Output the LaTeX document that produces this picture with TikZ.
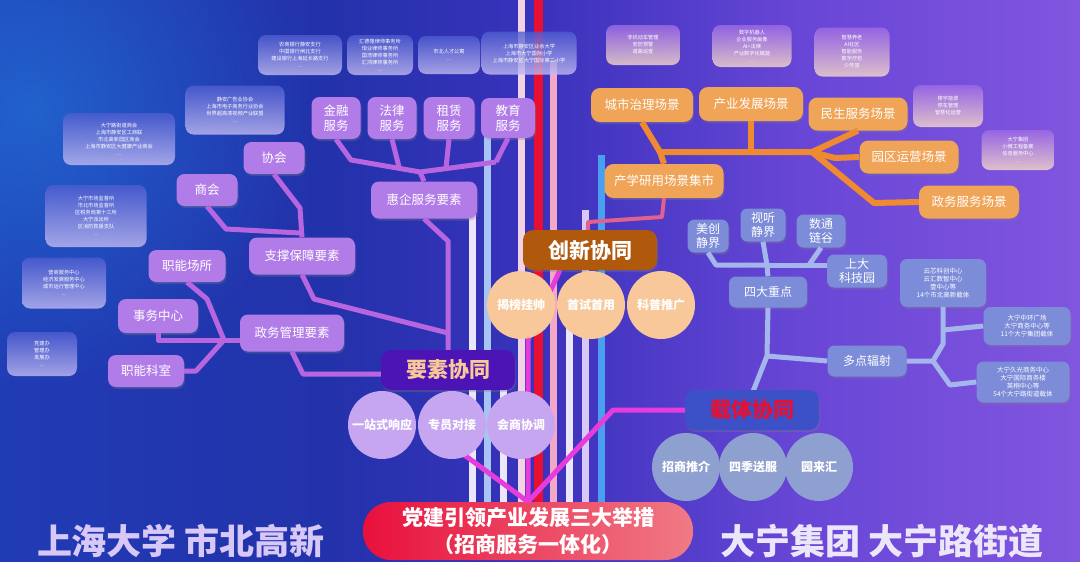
\documentclass[tikz,border=0pt]{standalone}
\usepackage{fontspec}
\setmainfont{Noto Sans CJK SC}
\usepackage{tikz}
\usetikzlibrary{shapes, arrows, positioning, shadows, fadings}
\definecolor{bgA}{HTML}{1D4CC6}
\definecolor{bgB}{HTML}{2232AA}
\definecolor{bgC}{HTML}{3A32BC}
\definecolor{bgD}{HTML}{6846D6}
\definecolor{bgE}{HTML}{B274F0}
\definecolor{glow}{HTML}{2388E6}
\definecolor{facpurple}{HTML}{B27CE8}
\definecolor{scorange}{HTML}{F0A458}
\definecolor{cablue}{HTML}{7C8CD8}
\definecolor{linepurple}{HTML}{B866E0}
\definecolor{lineorange}{HTML}{F08A30}
\definecolor{lineblue}{HTML}{A4B6EC}
\definecolor{linemag}{HTML}{E63CDC}
\definecolor{linepink}{HTML}{E0608E}
\definecolor{stW}{HTML}{ECE6FA}
\definecolor{stLB}{HTML}{A8C4F4}
\definecolor{stWP}{HTML}{F2D2E6}
\definecolor{stRed}{HTML}{E81030}
\definecolor{stPk}{HTML}{F4A8C8}
\definecolor{stLv}{HTML}{D8C8F8}
\definecolor{stBl}{HTML}{4AA0F0}
\definecolor{infoLtop}{HTML}{4E5CD0}
\definecolor{infoLbot}{HTML}{C4BCF2}
\definecolor{infoRtop}{HTML}{9E6AE6}
\definecolor{infoRbot}{HTML}{F8DCC8}
\definecolor{hubpurple}{HTML}{4C14B4}
\definecolor{hubbrown}{HTML}{B0580C}
\definecolor{hubblue}{HTML}{3C50C8}
\definecolor{circP}{HTML}{C6A6F0}
\definecolor{circO}{HTML}{F8C89A}
\definecolor{circB}{HTML}{8EA0D0}
\definecolor{redL}{HTML}{E8103C}
\definecolor{redR}{HTML}{F07A86}
\pgfdeclarehorizontalshading{bgshade}{100bp}{color(0bp)=(bgA); color(40bp)=(bgB); color(50bp)=(bgC); color(62bp)=(bgD); color(100bp)=(bgE)}
\tikzfading[name = glowfade, inner color = transparent!0, outer color = transparent!100]
\tikzstyle{factor} = [rectangle, fill = facpurple, text = white, rounded corners = 8pt, align = center, inner sep = 0pt, font = \fontsize{12.5}{15}\selectfont, drop shadow = {shadow xshift = 1pt, shadow yshift = -2pt, opacity = 0.3}]
\tikzstyle{scene} = [rectangle, fill = scorange, text = white, rounded corners = 9pt, align = center, inner sep = 0pt, font = \fontsize{12.5}{15}\selectfont, drop shadow = {shadow xshift = 1pt, shadow yshift = -2pt, opacity = 0.3}]
\tikzstyle{carrier} = [rectangle, fill = cablue, text = white, rounded corners = 7pt, align = center, inner sep = 0pt, font = \fontsize{12}{14}\selectfont, drop shadow = {shadow xshift = 1pt, shadow yshift = -2pt, opacity = 0.3}]
\tikzstyle{infoB} = [carrier, font = \fontsize{6.5}{8}\selectfont]
\tikzstyle{infoL} = [rectangle, rounded corners = 8pt, top color = infoLtop, bottom color = infoLbot, fill opacity = 0.8, text opacity = 1, text = white, align = center, inner sep = 0pt, font = \fontsize{5.2}{7}\selectfont]
\tikzstyle{infoR} = [infoL, top color = infoRtop, bottom color = infoRbot]
\tikzstyle{hub} = [rectangle, rounded corners = 10pt, align = center, inner sep = 0pt, minimum width = 134pt, minimum height = 40pt, font = \fontsize{21}{24}\selectfont\bfseries, drop shadow = {shadow xshift = 1pt, shadow yshift = -2pt, opacity = 0.3}]
\tikzstyle{measure} = [circle, minimum size = 68pt, inner sep = 0pt, text = white, font = \fontsize{12}{14}\selectfont\bfseries]
\tikzstyle{headline} = [rectangle, rounded corners = 28pt, left color = redL, right color = redR, text = white, align = center, inner sep = 0pt, minimum width = 330pt, minimum height = 58pt, font = \fontsize{21}{27}\selectfont\bfseries]
\tikzstyle{lineP} = [draw, linepurple, line width = 5pt, line join = round]
\tikzstyle{lineO} = [draw, lineorange, line width = 6pt, line join = round]
\tikzstyle{lineB} = [draw, lineblue, line width = 5pt, line join = round]
\tikzstyle{lineM} = [draw, linemag, line width = 5pt, line join = round]
\tikzstyle{lineK} = [draw, linepink, line width = 4pt, line join = round]
\begin{document}
\begin{tikzpicture}[x = 1pt, y = -1pt]
			% Background and stripes
			\useasboundingbox (0,0) rectangle (1080,562);
			\shade [shading = bgshade] (0,0) rectangle (1080,562);
			\fill [glow, path fading = glowfade, opacity = 0.5] (30,110) circle (280);
			\foreach \sx/\sc/\sy in {472/stW/215, 487/stLB/100, 503/stW/390, 521/stWP/0, 553/stPk/60, 569/stW/300, 585/stLv/210, 601/stBl/155}
				\fill [\sc] (\sx-3.5,\sy) rectangle (\sx+3.5,505);
			\fill [stRed] (533.5,0) rectangle (542.5,505);
			% Info boxes
			\node [infoL, minimum width = 84pt, minimum height = 40pt] (bank) at (300,55) {农商银行静安支行\\中国银行闸北支行\\建设银行上海延长路支行\\...};
			\node [infoL, minimum width = 66pt, minimum height = 40pt] (law) at (380,55) {汇德隆律师事务所\\恒业律师事务所\\国浩律师事务所\\汇鸿律师事务所\\...};
			\node [infoL, minimum width = 62pt, minimum height = 38pt] (flat) at (449,55) {市北人才公寓\\...};
			\node [infoL, minimum width = 95pt, minimum height = 43pt] (school) at (529,53) {上海市静安区业余大学\\上海市大宁国际小学\\上海市静安区大宁国际第二小学};
			\node [infoL, minimum width = 99pt, minimum height = 49pt] (assoc) at (235,110) {静安广告业协会\\上海市电子商务行业协会\\世界超高清视频产业联盟\\...};
			\node [infoL, minimum width = 112pt, minimum height = 52pt] (chamber) at (119,139) {大宁路街道商会\\上海市静安区工商联\\市北高新园区商会\\上海市静安区大健康产业商会\\...};
			\node [infoL, minimum width = 101pt, minimum height = 62pt] (office) at (96,216) {大宁市场监督所\\市北市场监督所\\区税务局第十三所\\大宁派出所\\区消防救援支队\\...};
			\node [infoL, minimum width = 84pt, minimum height = 51pt] (center) at (64,283) {营商服务中心\\经济发展服务中心\\城市运行管理中心\\...};
			\node [infoL, minimum width = 70pt, minimum height = 44pt] (dept) at (42,354) {党建办\\管理办\\发展办\\...};
			\node [infoR, minimum width = 74pt, minimum height = 40pt] (cityinfo) at (643,45) {非机动车管理\\安防预警\\道路巡查};
			\node [infoR, minimum width = 79pt, minimum height = 42pt] (indinfo) at (752,46) {数字机器人\\企业服务画像\\AI+法律\\产业数字化赋能\\...};
			\node [infoR, minimum width = 75pt, minimum height = 49pt] (lifeinfo) at (852,52) {智慧养老\\AI社区\\智能服务\\数字疗愈\\少年宫};
			\node [infoR, minimum width = 70pt, minimum height = 42pt] (parkinfo) at (948,106) {楼宇能源\\停车管理\\智慧化运营};
			\node [infoR, minimum width = 73pt, minimum height = 40pt] (govinfo) at (1018,150) {大宁集团\\小微工程备案\\信息服务中心\\...};
			% Place nodes
			\node [factor, minimum width = 49pt, minimum height = 42pt] (jinrong) at (336,118) {金融\\服务};
			\node [factor, minimum width = 49pt, minimum height = 42pt] (falv) at (392,118) {法律\\服务};
			\node [factor, minimum width = 51pt, minimum height = 42pt] (zulin) at (449,118) {租赁\\服务};
			\node [factor, minimum width = 54pt, minimum height = 40pt] (jiaoyu) at (508,118) {教育\\服务};
			\node [factor, minimum width = 61pt, minimum height = 32pt] (xiehui) at (274,158) {协会};
			\node [factor, minimum width = 61pt, minimum height = 32pt] (shanghui) at (207,190) {商会};
			\node [factor, minimum width = 106pt, minimum height = 37pt] (huiqi) at (424,200) {惠企服务要素};
			\node [factor, minimum width = 106pt, minimum height = 37pt] (zhicheng) at (302,256) {支撑保障要素};
			\node [factor, minimum width = 77pt, minimum height = 32pt] (changsuo) at (187,266) {职能场所};
			\node [factor, minimum width = 80pt, minimum height = 34pt] (shiwu) at (158,316) {事务中心};
			\node [factor, minimum width = 104pt, minimum height = 37pt] (zhengwu) at (292,333) {政务管理要素};
			\node [factor, minimum width = 76pt, minimum height = 32pt] (keshi) at (146,371) {职能科室};
			\node [scene, minimum width = 102pt, minimum height = 34pt] (chengshi) at (642,105) {城市治理场景};
			\node [scene, minimum width = 104pt, minimum height = 34pt] (chanye) at (751,104) {产业发展场景};
			\node [scene, minimum width = 99pt, minimum height = 33pt] (minsheng) at (858,114) {民生服务场景};
			\node [scene, minimum width = 99pt, minimum height = 33pt] (yuanqu) at (909,157) {园区运营场景};
			\node [scene, minimum width = 100pt, minimum height = 33pt] (zwfw) at (969,202) {政务服务场景};
			\node [scene, minimum width = 119pt, minimum height = 34pt] (jishi) at (664,181) {产学研用场景集市};
			\node [carrier, minimum width = 41pt, minimum height = 33pt] (meichuang) at (708,236) {美创\\静界};
			\node [carrier, minimum width = 45pt, minimum height = 33pt] (shiting) at (763,225) {视听\\静界};
			\node [carrier, minimum width = 49pt, minimum height = 33pt] (shutong) at (821,231) {数通\\链谷};
			\node [carrier, minimum width = 60pt, minimum height = 33pt] (shangda) at (857,271) {上大\\科技园};
			\node [carrier, minimum width = 78pt, minimum height = 31pt] (sida) at (768,292) {四大重点};
			\node [carrier, minimum width = 79pt, minimum height = 31pt] (duodian) at (867,361) {多点辐射};
			\node [infoB, minimum width = 86pt, minimum height = 48pt] (zaitiA) at (943,283) {云芯科创中心\\云汇数智中心\\壹中心等\\14个市北高新载体};
			\node [infoB, minimum width = 87pt, minimum height = 38pt] (zaitiB) at (1027,326) {大宁中环广场\\大宁商务中心等\\11个大宁集团载体};
			\node [infoB, minimum width = 93pt, minimum height = 41pt] (zaitiC) at (1023,382) {大宁久光商务中心\\大宁国际商务楼\\英桐中心等\\54个大宁路街道载体};
			\node [headline] (title) at (528,531) {党建引领产业发展三大举措\\（招商服务一体化）};
			% Draw edges
			\coordinate (hq) at (420,172);
			\coordinate (zj) at (224,340);
			\coordinate (oa) at (660,152);
			\coordinate (ob) at (812,152);
			\coordinate (bq) at (767,265);
			\coordinate (bm) at (767,356);
			\coordinate (br) at (933,361);
			\coordinate (cxin) at (560,270);
			\path [lineP] (jinrong.south) -- (351,160) -- (hq) -- (496,162);
			\path [lineP] (falv.south) -- (399,167);
			\path [lineP] (zulin.south) -- (446,168);
			\path [lineP] (jiaoyu.south) -- (496,162);
			\path [lineP] (hq) -- (huiqi.north);
			\path [lineP] (huiqi.south) -- (448,241) -- (448,350);
			\path [lineP] (xiehui.south) -- (300,208) -- (zhicheng.north);
			\path [lineP] (shanghui.south) -- (226,229) -- (300,233);
			\path [lineP] (zhicheng.south) -- (314,299) -- (448,333);
			\path [lineP] (changsuo.south) -- (207,299) -- (zj);
			\path [lineP] (shiwu.south) -- (158,340) -- (zj);
			\path [lineP] (keshi.east) -- (196,371) -- (zj);
			\path [lineP] (zj) -- (zhengwu.west |- zj);
			\path [lineP] (zhengwu.south) -- (303,374) -- (390,374);
			\path [lineO] (chengshi.south) -- (oa) -- (ob);
			\path [lineO] (chanye.south) -- (chanye.south |- oa);
			\path [lineO] (ob) -- (minsheng.south);
			\path [lineO] (ob) -- (835,158) -- (yuanqu.west);
			\path [lineO] (ob) -- (874,203) -- (zwfw.west);
			\path [lineO] (oa) -- (jishi.north);
			\path [lineK] (jishi.south) -- (662,217) -- (588,222) -- (588,236);
			\path [lineB] (meichuang.south) -- (716,265) -- (bq) -- (sida.north);
			\path [lineB] (shiting.south) -- (bq);
			\path [lineB] (shutong.south) -- (809,265);
			\path [lineB] (bq) -- (shangda.west |- bq);
			\path [lineB] (sida.south) -- (bm) -- (duodian.west);
			\path [lineB] (bm) -- (752,394);
			\path [lineB] (duodian.east) -- (br) -- (943,344) -- (zaitiA.south);
			\path [lineB] (943,330) -- (zaitiB.west);
			\path [lineB] (br) -- (950,385) -- (zaitiC.west);
			\path [lineM] (title.north) -- (528,340) -- (cxin);
			\path [lineM] (title.north) -- (613,410) -- (690,410);
			\path [lineM] (title.north) -- (463,454);
			% Hubs and measures
			\node [hub, fill = hubpurple, text = circO] (yaosu) at (448,370) {要素协同};
			\node [hub, fill = hubbrown, text = white] (chuangxin) at (590,250) {创新协同};
			\node [hub, fill = hubblue, text = stRed] (zaiti) at (752,410) {载体协同};
			\node [measure, fill = circP] (yizhan) at (382,425) {一站式响应};
			\node [measure, fill = circP] (zhuanyuan) at (452,425) {专员对接};
			\node [measure, fill = circP] (huishang) at (521,425) {会商协调};
			\node [measure, fill = circO] (jiebang) at (521,305) {揭榜挂帅};
			\node [measure, fill = circO] (shoushi) at (591,305) {首试首用};
			\node [measure, fill = circO] (kepu) at (661,305) {科普推广};
			\node [measure, fill = circB] (zhaoshang) at (686,467) {招商推介};
			\node [measure, fill = circB] (siji) at (753,467) {四季送服};
			\node [measure, fill = circB] (yuanlai) at (819,467) {园来汇};
			% Footer
			\node [text = stLv, font = \fontsize{35}{38}\selectfont\bfseries] (shu) at (181,541) {上海大学\hspace{8pt}市北高新};
			\node [text = stW, font = \fontsize{35}{38}\selectfont\bfseries] (daning) at (882,541) {大宁集团\hspace{8pt}大宁路街道};
		\end{tikzpicture}
\end{document}
